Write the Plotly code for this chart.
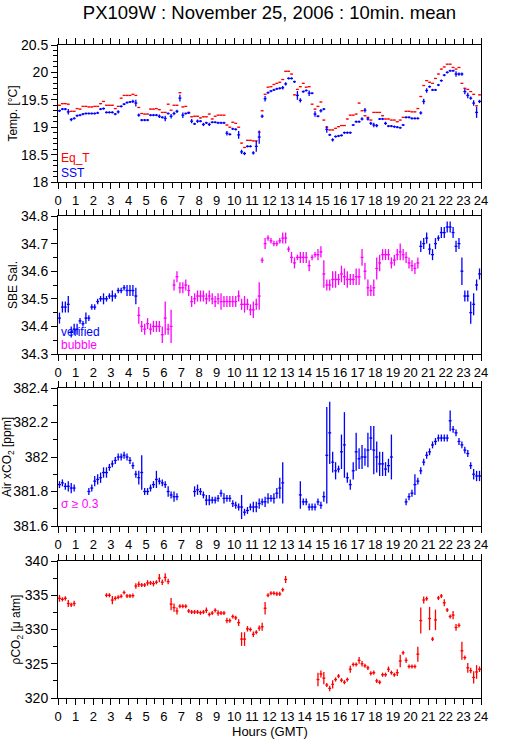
import numpy as np
import plotly.graph_objects as go

# ---------------- data (10-min means, one value per 10-min bin, None = no data) -------------
sst = [19.30, 19.33, 19.33, 19.28, 19.14, 19.16,
       19.21, 19.22, 19.24, 19.25, 19.25, 19.25,
       19.25, 19.26, 19.33, 19.34, 19.27, 19.27,
       19.27, 19.24, 19.28, 19.38, 19.42, 19.45,
       19.46, 19.47, 19.44, 19.22, 19.13, 19.13,
       19.13, 19.22, 19.22, 19.22, 19.20, 19.18,
       19.16, 19.25, 19.20, 19.25, 19.29, 19.53,
       19.22, 19.25, 19.26, 19.11, 19.06, 19.11,
       19.11, 19.05, 19.08, 19.05, 19.09, 19.09,
       19.08, 19.08, 19.08, 18.89, 18.87, 18.97,
       18.96, 18.86, 18.55, 18.52, 18.65, 18.65,
       18.53, 18.65, 18.82, 19.20, 19.52, 19.63,
       19.66, 19.68, 19.70, 19.71, 19.72, 19.79,
       19.89, 19.89, 19.83, 19.58, 19.49, 19.65,
       19.67, 19.62, 19.62, 19.24, 19.20, 19.30,
       19.33, 18.96, 18.86, 18.77, 18.83, 18.84,
       18.85, 18.90, 18.90, 18.90, 19.04, 19.10,
       19.10, 19.15, 19.31, 19.15, 19.07, 19.04,
       19.03, 19.15, 19.15, 19.07, 19.02, 19.02,
       19.01, 19.00, 18.99, 19.04, 19.18, 19.18,
       19.16, 19.16, 19.16, 19.26, 19.47, 19.67,
       19.74, 19.68, 19.68, 19.77, 19.85, 19.95,
       20.00, 20.03, 20.03, 19.97, 19.97, 19.97,
       19.65, 19.58, 19.53, 19.44, 19.27, 19.47]

sst_sd = [0.02, 0.02, 0.02, 0.05, 0.03, 0.02,
          0.02, 0.02, 0.02, 0.02, 0.02, 0.02,
          0.02, 0.02, 0.02, 0.02, 0.02, 0.02,
          0.02, 0.02, 0.03, 0.02, 0.02, 0.02,
          0.02, 0.03, 0.06, 0.03, 0.02, 0.02,
          0.02, 0.02, 0.02, 0.02, 0.03, 0.02,
          0.05, 0.02, 0.04, 0.03, 0.03, 0.06,
          0.05, 0.02, 0.02, 0.04, 0.02, 0.03,
          0.02, 0.03, 0.02, 0.03, 0.02, 0.02,
          0.02, 0.02, 0.02, 0.04, 0.02, 0.02,
          0.02, 0.07, 0.04, 0.03, 0.02, 0.02,
          0.03, 0.10, 0.12, 0.03, 0.05, 0.02,
          0.02, 0.02, 0.02, 0.02, 0.03, 0.03,
          0.02, 0.02, 0.02, 0.08, 0.04, 0.02,
          0.02, 0.05, 0.02, 0.05, 0.02, 0.03,
          0.02, 0.06, 0.02, 0.03, 0.02, 0.02,
          0.02, 0.02, 0.02, 0.02, 0.02, 0.02,
          0.02, 0.03, 0.04, 0.03, 0.03, 0.04,
          0.03, 0.02, 0.02, 0.03, 0.02, 0.02,
          0.02, 0.02, 0.02, 0.02, 0.02, 0.02,
          0.02, 0.02, 0.02, 0.03, 0.05, 0.04,
          0.02, 0.02, 0.02, 0.02, 0.02, 0.02,
          0.02, 0.02, 0.02, 0.05, 0.03, 0.03,
          0.05, 0.05, 0.03, 0.05, 0.10, 0.03]

eq_t = [19.40, 19.43, 19.43, 19.42, 19.29, 19.29,
        19.34, 19.33, 19.38, 19.38, 19.37, 19.37,
        19.38, 19.38, 19.43, 19.47, 19.40, 19.40,
        19.40, 19.34, 19.38, 19.53, 19.58, 19.58,
        19.58, 19.60, 19.58, 19.36, 19.25, 19.24,
        19.24, 19.33, 19.33, 19.34, 19.32, 19.27,
        19.27, 19.42, 19.31, 19.40, 19.40, 19.63,
        19.37, 19.38, 19.27, 19.19, 19.20, 19.20,
        19.17, 19.19, 19.19, 19.24, 19.15, 19.20,
        19.22, 19.22, 19.22, 19.04, 19.00, 19.09,
        19.07, 19.00, 18.71, 18.63, 18.76, 18.76,
        18.75, 18.75, 18.91, 19.30, 19.60, 19.73,
        19.74, 19.78, 19.80, 19.82, 19.87, 20.02,
        20.02, 19.97, 19.59, 19.69, 19.74, 19.80,
        19.73, 19.74, 19.42, 19.33, 19.38, 19.46,
        19.13, 19.00, 18.95, 18.95, 18.98, 19.01,
        19.03, 19.03, 19.15, 19.22, 19.22, 19.24,
        19.44, 19.30, 19.21, 19.18, 19.13, 19.27,
        19.27, 19.27, 19.21, 19.15, 19.15, 19.13,
        19.13, 19.10, 19.13, 19.18, 19.29, 19.29,
        19.28, 19.28, 19.34, 19.56, 19.76, 19.85,
        19.82, 19.80, 19.89, 19.97, 20.06, 20.10,
        20.15, 20.15, 20.09, 20.06, 20.09, 19.80,
        19.71, 19.69, 19.65, 19.60, 19.39, 19.59]

N = None
sal_verified = [34.43, 34.47, 34.47, 34.48, 34.38, 34.39,
                34.39, 34.42, 34.41, 34.43, 34.43, 34.47,
                34.47, 34.49, 34.50, 34.50, 34.50, 34.51,
                34.51, 34.51, 34.53, 34.53, 34.54, 34.53,
                34.53, 34.53, 34.51, N, N, N] + [N] * 90 + \
               [N, N, N, 34.69, 34.70, 34.72,
                34.68, 34.66, 34.70, 34.72, 34.74, 34.74,
                34.76, 34.76, 34.74, 34.69, 34.70, 34.60,
                34.51, 34.51, 34.45, 34.48, 34.55, 34.59]

sal_bubble = [N] * 24 + \
             [N, N, N, 34.44, 34.40, 34.39,
              34.41, 34.39, 34.40, 34.40, 34.40, 34.37,
              34.43, 34.39, 34.40, 34.55, 34.58, 34.54,
              34.54, 34.55, 34.53, 34.49, 34.50, 34.51,
              34.51, 34.51, 34.50, 34.51, 34.50, 34.49,
              34.50, 34.49, 34.49, 34.49, 34.49, 34.49,
              34.49, 34.51, 34.48, 34.48, 34.48, 34.46,
              34.46, 34.48, 34.51, 34.64, 34.70, 34.72,
              34.71, 34.70, 34.70, 34.71, 34.72, 34.72,
              34.68, 34.65, 34.63, 34.65, 34.65, 34.65,
              34.65, 34.62, 34.65, 34.66, 34.66, 34.67,
              34.59, 34.55, 34.55, 34.57, 34.57, 34.57,
              34.59, 34.58, 34.57, 34.57, 34.57, 34.58,
              34.58, 34.65, 34.60, 34.54, 34.53, 34.54,
              34.61, 34.63, 34.66, 34.66, 34.66, 34.63,
              34.64, 34.66, 34.67, 34.66, 34.65, 34.63,
              34.62, 34.61, 34.63, N, N, N] + [N] * 18

sal_sd = [0.02, 0.02, 0.02, 0.03, 0.02, 0.02,
          0.02, 0.01, 0.01, 0.02, 0.01, 0.01,
          0.01, 0.01, 0.01, 0.02, 0.01, 0.01,
          0.02, 0.01, 0.01, 0.01, 0.01, 0.02,
          0.02, 0.02, 0.03, 0.03, 0.02, 0.02,
          0.02, 0.02, 0.02, 0.02, 0.02, 0.03,
          0.06, 0.02, 0.06, 0.02, 0.02, 0.02,
          0.02, 0.02, 0.02, 0.02, 0.02, 0.02,
          0.02, 0.02, 0.02, 0.02, 0.02, 0.02,
          0.02, 0.03, 0.02, 0.02, 0.02, 0.02,
          0.02, 0.02, 0.02, 0.03, 0.02, 0.02,
          0.03, 0.02, 0.05, 0.01, 0.02, 0.01,
          0.01, 0.01, 0.01, 0.01, 0.02, 0.02,
          0.01, 0.02, 0.02, 0.01, 0.02, 0.02,
          0.02, 0.02, 0.01, 0.01, 0.02, 0.02,
          0.05, 0.02, 0.02, 0.03, 0.03, 0.02,
          0.03, 0.03, 0.03, 0.02, 0.02, 0.03,
          0.03, 0.03, 0.03, 0.03, 0.02, 0.03,
          0.04, 0.03, 0.02, 0.02, 0.02, 0.02,
          0.02, 0.02, 0.03, 0.02, 0.02, 0.02,
          0.02, 0.02, 0.02, 0.02, 0.02, 0.02,
          0.02, 0.02, 0.02, 0.01, 0.02, 0.02,
          0.02, 0.02, 0.02, 0.02, 0.02, 0.05,
          0.02, 0.02, 0.04, 0.04, 0.02, 0.02]

air_xco2 = [381.84, 381.85, 381.83, 381.83, 381.82, 381.82,
            N, N, N, N, 381.80, 381.82,
            381.86, 381.87, 381.88, 381.91, 381.91, 381.94,
            381.96, 381.98, 382.00, 382.00, 382.01, 382.00,
            381.98, 381.95, 381.90, 381.88, 381.91, 381.80,
            381.80, 381.82, 381.84, 381.87, 381.86, 381.85,
            381.84, 381.80, 381.78, 381.77, 381.77, N,
            N, N, N, N, 381.80, 381.81,
            381.80, 381.78, 381.75, 381.75, 381.75, 381.75,
            381.76, 381.79, 381.76, 381.76, 381.76, 381.73,
            381.72, 381.71, 381.71, 381.68, 381.69, 381.71,
            381.71, 381.71, 381.73, 381.74, 381.74, 381.76,
            381.76, 381.76, 381.79, 381.82, 381.85, N,
            N, N, N, N, 381.78, 381.74,
            381.74, 381.71, 381.71, 381.71, 381.74, 381.72,
            381.77, 382.01, 382.14, 381.97, 381.92, 381.93,
            382.03, 382.07, 381.88, 381.84, 381.92, 382.03,
            381.99, 382.00, 382.00, 382.04, 382.11, 382.04,
            382.00, 381.96, 381.96, 381.93, 381.95, 382.00,
            N, N, N, N, 381.74, 381.77,
            381.79, 381.84, 381.86, 381.92, 381.97, 382.01,
            382.03, 382.07, 382.09, 382.11, 382.11, 382.11,
            382.11, 382.21, 382.16, 382.14, 382.09, 382.07,
            382.04, 382.02, 381.95, 381.90, 381.89, 381.89]

air_sd = [0.02, 0.02, 0.02, 0.03, 0.03, 0.02,
          0.02, 0.02, 0.02, 0.02, 0.02, 0.02,
          0.03, 0.03, 0.03, 0.03, 0.03, 0.02,
          0.02, 0.02, 0.02, 0.02, 0.02, 0.02,
          0.02, 0.02, 0.02, 0.04, 0.10, 0.02,
          0.02, 0.02, 0.02, 0.05, 0.02, 0.02,
          0.02, 0.03, 0.02, 0.03, 0.02, 0.02,
          0.02, 0.02, 0.02, 0.02, 0.03, 0.03,
          0.02, 0.02, 0.03, 0.03, 0.02, 0.02,
          0.02, 0.02, 0.03, 0.02, 0.02, 0.02,
          0.02, 0.02, 0.07, 0.02, 0.02, 0.02,
          0.03, 0.03, 0.03, 0.02, 0.03, 0.03,
          0.02, 0.03, 0.03, 0.06, 0.12, 0.02,
          0.02, 0.02, 0.02, 0.02, 0.08, 0.02,
          0.02, 0.02, 0.02, 0.02, 0.02, 0.02,
          0.03, 0.28, 0.18, 0.06, 0.05, 0.02,
          0.10, 0.19, 0.03, 0.03, 0.05, 0.11,
          0.06, 0.07, 0.05, 0.10, 0.07, 0.14,
          0.09, 0.07, 0.07, 0.04, 0.04, 0.13,
          0.02, 0.02, 0.02, 0.02, 0.02, 0.02,
          0.02, 0.06, 0.02, 0.02, 0.02, 0.02,
          0.02, 0.02, 0.02, 0.02, 0.02, 0.02,
          0.02, 0.06, 0.02, 0.02, 0.02, 0.02,
          0.02, 0.02, 0.02, 0.03, 0.03, 0.03]

pco2 = [334.55, 334.40, 334.55, 333.80, 333.60, 333.80,
        N, N, N, N, N, N,
        N, N, N, N, 335.00, 335.00,
        334.30, 334.55, 334.70, 334.85, 335.40, 334.90,
        334.90, 334.95, 336.35, 336.60, 336.50, 336.50,
        336.80, 336.80, 336.70, 336.90, 337.50, 336.90,
        337.60, 337.00, 333.70, 333.20, 332.70, 333.40,
        333.40, 333.40, 332.70, 332.55, 332.55, 332.55,
        332.45, 332.55, 332.80, 332.20, 332.40, 332.80,
        332.40, 332.40, 332.40, 331.30, 331.30, 331.90,
        331.70, 331.00, 328.60, 328.60, 330.10, 330.00,
        329.30, 329.60, 330.20, 330.40, 333.10, 335.00,
        335.30, 335.30, 335.20, 335.20, 335.80, 337.30,
        N, N, N, N, N, N,
        N, N, N, N, 322.70, 323.50,
        322.90, 321.90, 321.40, 322.00, 322.70, 323.20,
        322.60, 322.30, 322.70, 324.20, 324.90, 324.90,
        325.50, 325.00, 324.70, 324.40, 323.60, 323.70,
        322.50, 322.30, 323.40, 323.40, 324.20, 323.70,
        323.40, 323.70, 325.40, 326.60, 325.50, 324.60,
        324.60, 324.60, 326.40, 331.30, 334.30, 334.50,
        331.60, 328.60, 331.40, 334.60, 334.90, 333.90,
        332.85, 331.90, 332.10, 330.30, 330.60, 326.90,
        325.90, 324.40, 324.00, 323.00, 323.80, 324.20]

pco2_sd = [0.5, 0.3, 0.3, 0.5, 0.3, 0.4,
           0.3, 0.3, 0.3, 0.3, 0.3, 0.3,
           0.3, 0.3, 0.3, 0.3, 0.3, 0.3,
           0.6, 0.3, 0.3, 0.3, 0.3, 0.3,
           0.3, 0.3, 0.4, 0.4, 0.3, 0.3,
           0.4, 0.3, 0.4, 0.3, 0.6, 0.4,
           0.6, 0.4, 0.9, 0.6, 0.5, 0.3,
           0.3, 0.3, 0.3, 0.3, 0.3, 0.3,
           0.3, 0.3, 0.4, 0.3, 0.3, 0.3,
           0.4, 0.3, 0.3, 0.4, 0.3, 0.3,
           0.3, 0.5, 1.0, 1.0, 0.4, 0.3,
           0.4, 0.3, 0.4, 0.6, 0.9, 0.3,
           0.3, 0.3, 0.3, 0.3, 0.3, 0.5,
           0.3, 0.3, 0.3, 0.3, 0.3, 0.3,
           0.3, 0.3, 0.3, 0.3, 1.0, 0.5,
           0.9, 0.3, 0.4, 0.6, 0.3, 0.3,
           0.3, 0.3, 0.3, 0.5, 0.3, 0.3,
           0.5, 0.4, 0.3, 0.3, 0.3, 0.3,
           0.3, 0.3, 0.3, 0.3, 0.4, 0.3,
           0.3, 0.5, 0.9, 0.3, 0.4, 0.3,
           0.3, 0.3, 1.1, 1.9, 0.5, 0.3,
           1.7, 0.3, 1.5, 0.3, 0.3, 0.5,
           0.3, 0.3, 0.6, 0.5, 0.3, 1.3,
           0.3, 0.7, 0.4, 0.9, 1.0, 0.4]

hour_ticks = list(range(25))

# ---------------- styling ----------------
FONT = "Liberation Sans, Arial, Helvetica, sans-serif"
BLUE, RED, MAG = "#0000ff", "#ff0000", "#ff00ff"
HALF = 1 / 12.0      # half of a 10-min bin, in hours
t = np.arange(144) / 6.0 + HALF
LW = 1.3

W, H = 529, 739
L, R, T, B = 58, 481, 45, 698   # plot frame in pixels


def ydom(top_px, bot_px):
    return [(B - bot_px) / (B - T), (B - top_px) / (B - T)]


panels = [
    dict(dom=ydom(45, 182), rng=[18, 20.5], dtick=0.5, minor=0.1, title="Temp. [°C]"),
    dict(dom=ydom(216, 354), rng=[34.3, 34.8], dtick=0.1, minor=0.05, title="SBE Sal."),
    dict(dom=ydom(388, 526), rng=[381.6, 382.4], dtick=0.2, minor=0.1, title="Air xCO<sub>2</sub> [ppm]"),
    dict(dom=ydom(561, 698), rng=[320, 340], dtick=5, minor=2.5, title="ρCO<sub>2</sub> [μ atm]"),
]

fig = go.Figure()


def add_series(values, sd, color, row, show_y=True):
    xs, ys, es = [], [], []
    for i, v in enumerate(values):
        if v is None:
            continue
        xs.append(t[i])
        ys.append(v)
        es.append(sd[i] if sd is not None else 0)
    ax = "" if row == 1 else str(row)
    tr = go.Scatter(
        x=xs, y=ys, mode="markers",
        marker=dict(size=1, color=color),
        error_x=dict(type="constant", value=HALF, color=color, thickness=LW, width=0),
        xaxis="x" + ax, yaxis="y" + ax, showlegend=False, hoverinfo="skip",
    )
    if show_y:
        tr.error_y = dict(type="data", array=es, color=color, thickness=LW, width=0, visible=True)
    fig.add_trace(tr)


add_series(eq_t, None, RED, 1, show_y=False)
add_series(sst, sst_sd, BLUE, 1)
add_series(sal_verified, sal_sd, BLUE, 2)
add_series(sal_bubble, sal_sd, MAG, 2)
add_series(air_xco2, air_sd, BLUE, 3)
add_series(pco2, pco2_sd, RED, 4)

layout = dict(
    width=W, height=H,
    margin=dict(l=L, r=W - R, t=T, b=H - B, pad=0),
    paper_bgcolor="white", plot_bgcolor="white",
    font=dict(family=FONT, size=13, color="black"),
    title=dict(text="PX109W : November 25, 2006 : 10min. mean", x=0.5, xanchor="center",
               xref="paper", y=1 - 12.5 / H, yanchor="middle", yref="container",
               font=dict(size=18.5, family=FONT)),
    showlegend=False,
)

for i, p in enumerate(panels, start=1):
    sfx = "" if i == 1 else str(i)
    xa = dict(
        domain=[0, 1], anchor="y" + sfx, range=[0, 24],
        tickmode="array", tickvals=hour_ticks, ticktext=[str(h) for h in hour_ticks],
        ticks="outside", ticklen=6, tickwidth=1, tickcolor="black",
        minor=dict(dtick=0.5, tick0=0, ticks="outside", ticklen=5, tickwidth=1, tickcolor="black", showgrid=False),
        showline=True, linecolor="black", linewidth=1, mirror="ticks",
        showgrid=False, zeroline=False, tickfont=dict(size=13), automargin=False,
        fixedrange=True,
    )
    ya = dict(
        domain=p["dom"], anchor="x" + sfx, range=p["rng"],
        tick0=p["rng"][0], dtick=p["dtick"],
        ticks="outside", ticklen=6, tickwidth=1, tickcolor="black",
        minor=dict(dtick=p["minor"], ticks="outside", ticklen=4, tickwidth=1, tickcolor="black", showgrid=False),
        showline=True, linecolor="black", linewidth=1, mirror=True,
        showgrid=False, zeroline=False, tickfont=dict(size=14), automargin=False,
        title=dict(text=p["title"], font=dict(size=12), standoff=0),
        fixedrange=True,
    )
    yr = dict(
        overlaying="y" + sfx, side="right", anchor="x" + sfx, range=p["rng"],
        tick0=p["rng"][0], dtick=p["dtick"],
        ticks="outside", ticklen=6, tickwidth=1, tickcolor="black",
        minor=dict(dtick=p["minor"], ticks="outside", ticklen=4, tickwidth=1, tickcolor="black", showgrid=False),
        showline=False, showgrid=False, zeroline=False, tickfont=dict(size=14),
        automargin=False, fixedrange=True,
    )
    layout["xaxis" + sfx] = xa
    layout["yaxis" + sfx] = ya
    layout["yaxis" + str(i + 4)] = yr

fig.update_layout(**layout)


def px_x(px):
    return (px - L) / (R - L)


def px_y(py):
    return (B - py) / (B - T)


notes = [("Eq_T", RED, 158, 12), ("SST", BLUE, 173, 12),
         ("verified", BLUE, 332, 12), ("bubble", MAG, 345, 12),
         ("σ ≥ 0.3", MAG, 504, 12)]
for txt, col, py, fs in notes:
    fig.add_annotation(text=txt, x=px_x(59), y=px_y(py), xref="paper", yref="paper",
                       xanchor="left", yanchor="middle", showarrow=False,
                       font=dict(color=col, size=fs, family=FONT))

fig.add_annotation(text="Hours (GMT)", x=0.5, y=px_y(731), xref="paper", yref="paper",
                   xanchor="center", yanchor="middle", showarrow=False,
                   font=dict(size=13, family=FONT, color="black"))

# remove the browser's default 8px page margin so the figure sits at the window origin
fig.write_html("out.html", config={"displayModeBar": False, "staticPlot": True},
               post_script="document.body.style.margin='0';")
